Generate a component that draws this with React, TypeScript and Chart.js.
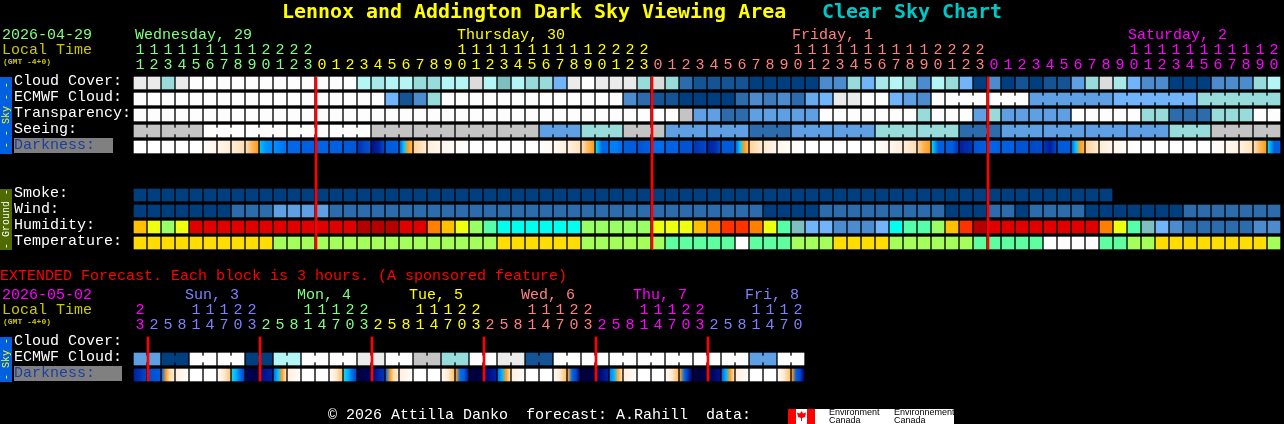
import React, { useEffect, useRef } from "react";
import { Chart, registerables } from "chart.js";

Chart.register(...registerables);

// ---------- data ----------
const mainHours = [11,12,13,14,15,16,17,18,19,20,21,22,23,
  0,1,2,3,4,5,6,7,8,9,10,11,12,13,14,15,16,17,18,19,20,21,22,23,
  0,1,2,3,4,5,6,7,8,9,10,11,12,13,14,15,16,17,18,19,20,21,22,23,
  0,1,2,3,4,5,6,7,8,9,10,11,12,13,14,15,16,17,18,19,20];
const extHours = [23,2,5,8,11,14,17,20,23,2,5,8,11,14,17,20,23,2,5,8,11,14,17,20,23,2,5,8,11,14,17,20,23,2,5,8,11,14,17,20,23,2,5,8,11,14,17,20];
const extDayOfCol = [5,0,0,0,0,0,0,0,0,1,1,1,1,1,1,1,1,2,2,2,2,2,2,2,2,3,3,3,3,3,3,3,3,4,4,4,4,4,4,4,4,0,0,0,0,0,0,0];
const extDayColors = ["#8080ff","#80ff80","#ffff00","#ff8080","#ff00ff","#ff00ff"];
const mainDayLabels = ["Wednesday, 29","Thursday, 30","Friday, 1","Saturday, 2"];
const extDayLabels = ["Sun, 3","Mon, 4","Tue, 5","Wed, 6","Thu, 7","Fri, 8"];
const rowLabels = ["Cloud Cover:","ECMWF Cloud:","Transparency:","Seeing:","Darkness:"];
const groundLabels = ["Smoke:","Wind:","Humidity:","Temperature:"];

const cloudCover = [90,90,60,90,100,100,100,100,100,100,100,100,100,100,100,100,70,65,70,70,60,60,70,70,85,70,50,70,60,60,40,90,100,90,90,90,60,85,60,20,10,10,10,10,0,0,0,0,0,25,25,60,40,65,70,60,25,70,60,40,0,25,0,10,0,10,10,30,60,85,65,40,25,25,0,0,0,25,25,25,60,70];
const ecmwfCloud = [100,100,100,100,100,100,100,100,100,100,100,100,100,100,100,100,100,100,40,10,25,60,100,100,100,100,100,100,100,100,100,100,100,100,100,25,20,10,10,0,0,0,0,20,25,22,25,20,35,40,90,90,100,100,40,30,25,100,100,100,100,100,100,100,30,30,30,30,30,30,40,40,40,40,40,40,60,60,60,60,60,60];
const transparency = [100,100,100,100,100,100,100,100,100,100,100,100,100,100,100,100,100,100,100,100,100,100,100,100,100,100,100,100,100,100,100,100,100,100,100,100,100,100,100,80,30,30,20,20,30,30,30,30,30,100,100,100,100,100,100,100,60,100,100,100,30,60,30,30,30,30,30,100,100,100,100,100,60,60,20,20,20,60,60,60,100,100];
const seeing = [80,80,80,80,80,100,100,100,100,100,100,100,100,100,100,100,100,80,80,80,80,80,80,80,80,80,80,80,80,30,30,30,60,60,60,80,80,80,30,30,30,30,30,30,20,20,20,30,30,30,30,30,30,60,60,60,60,60,60,20,20,20,30,30,30,30,30,30,30,30,30,30,30,30,60,60,60,80,80,80,80,80];
const seeingGroups = [2,3,3,3,3,3,3,3,3,3,3,3,3,3,3,3,3,3,3,3,3,3,3,3,3,3,3,2];
const ecmwfGroups = [58,3,3,6,6,6];
const darkness = [[0],[0],[0],[0],[0],[.3,.8],[.8,1.4],[1.4,2],[2,2.6,3],[4.3,5,5.2],[5,5.5,6],[6.5],[7],[6.8],[7],[7.3],[8.5,7.5],[9.5,9,8],[7.2,7],[6.5,4.2,3,2.6],[2.2,1.4],[1.3,.8],[.8,.3],[.3,.1],
  [0],[0],[0],[0],[0],[.1,.5],[.5,1.2],[1.2,1.9],[2,2.6,3],[4,6.5,6.5],[5.5,5.5,6.2],[7,7.2],[7.5,7],[6.3],[6.8],[7.5],[8.5,8],[9,8.7,8],[7.2],[6.5,4.2,3,2.6],[2.2,1.4],[1.5,.9],[.8,.3],[.3,.1],
  [0],[0],[0],[0],[0],[.2,.6],[.7,1.3],[1.3,2],[2.2,2.7,3],[4,7,7],[7.2,7,8.5],[9,8.5],[7.5,7],[6.5,7],[7],[7.5],[8,7.8],[8.5,9,8],[7.2],[6,4.2,3,2.7],[2.2,1.4],[1.4,.9],[.8,.3],[.3,.1],
  [0],[0],[0],[0],[0],[.1,.5],[.6,1.1],[1.1,1.9],[2,2.6,3],[4,7,7]];
const smoke = [0,0,0,0,0,0,0,0,0,0,0,0,0,0,0,0,0,0,0,0,0,0,0,0,0,0,0,0,0,0,0,0,0,0,0,0,0,0,0,0,0,0,0,0,0,0,0,0,0,0,0,0,0,0,0,0,0,0,0,0,0,0,0,0,0,0,0,0,0,0];
const wind = [0,0,0,0,0,0,0,20,20,20,30,30,30,30,20,20,20,20,20,20,20,20,20,20,20,20,20,20,20,20,20,20,20,20,20,20,20,20,20,20,20,20,20,20,20,0,0,0,0,20,20,20,20,20,20,20,20,20,0,0,0,20,20,0,20,20,20,20,0,0,0,0,0,0,0,20,20,20,20,20,20,20];
const humidity = [65,60,55,60,85,85,85,85,85,85,85,85,85,85,85,85,80,80,80,85,85,70,65,60,55,50,45,45,45,45,45,45,55,55,55,55,55,60,60,60,65,70,75,75,70,60,50,40,35,35,30,30,30,35,45,50,50,55,65,75,80,85,85,85,85,85,85,85,85,70,60,50,40,35,30,25,25,25,25,25,30,30];
const temperature = [15,15,15,15,15,15,15,15,15,15,10,10,10,10,10,10,10,10,10,10,10,10,10,10,10,10,15,15,15,15,15,15,10,10,10,10,10,10,5,5,5,5,5,0,5,5,5,10,10,10,15,15,15,15,10,10,10,10,10,10,5,5,5,5,5,0,0,0,0,5,5,10,10,15,15,15,15,15,15,15,15,10];
const extEcmwf = [30,30,0,0,100,100,100,100,0,0,70,70,100,100,100,100,90,90,100,100,80,80,60,60,100,100,90,90,10,10,100,100,100,100,100,100,100,100,100,100,100,100,100,100,30,30,100,100];
const extGroups = [2,2,2,2,2,2,2,2,2,2,2,2,2,2,2,2,2,2,2,2,2,2,2,2];
const extDarkness = [[9,8],[7.7,7.3],[6,3,2,1.5],[1.2,.3],[0],[0],[.4,1.5,2.4],[3.9,4.5,6,8],[10.5,11],[9.5,9],[6,4.3,3,1.7],[1.2,.3],[0],[0],[.4,1.5,2.5],[3.9,4.5,6,8],[11,10.5],[10,9,8.5],[6,3,2,1.5],[1.2,.3],[0],[0],[.4,1.5,2.5],[3,6,7,9],[11,11],[10,9],[6,4.5,3,2],[1.2,.3],[0],[0],[.4,1.5,2.5],[2.8,6.5,8,10],[11],[10.5,9],[5.5,4.5,2.8,2],[1.2,.3],[0],[0],[.4,1.5,2.5],[3,6,8.5,10.5],[11],[11,9.5],[6.5,4.5,3,2],[1.2,.3],[0],[0],[.4,1.5,2.5],[3,7,8,10]];
const midnightCols = [13,37,61];
const extMidnightCols = [1,9,17,25,33,41];

// ---------- colour scales ----------
const cloudPalette: Record<number,string> = {100:"#fdfdfd",90:"#ebebeb",85:"#dcdcdc",80:"#c4c4c4",70:"#b4f6f6",65:"#a8e8e8",60:"#98dbdb",50:"#7fbfbf",40:"#72b4fa",35:"#68aaee",30:"#5f9fe3",25:"#4c8cce",22:"#3c7cbc",20:"#2c6cac",10:"#145494",0:"#003f7f"};
const humidityPalette: Record<number,string> = {25:"#2c6cac",30:"#4c8cce",35:"#72b4fa",40:"#7fbfbf",45:"#00ffee",50:"#55ffaa",55:"#99ff66",60:"#eeff10",65:"#ffc000",70:"#ff8000",75:"#ff3300",80:"#b50000",85:"#e00000"};
const temperaturePalette: Record<number,string> = {0:"#fdfdfd",5:"#5fff9f",10:"#a5ff5a",15:"#ffdd00"};
const darknessPalette = ["#ffffff","#fff4e6","#ffe0b8","#ff9d1e","#00d8ff","#0090ff","#0070f0","#0060e0","#0048c8","#0020a0","#000070","#000040"];

function hexRgb(h: string) { return [1,3,5].map((i) => parseInt(h.slice(i,i+2),16)); }
function darkColor(level: number) {
  const a = Math.floor(level), b = Math.min(a+1, darknessPalette.length-1), t = level-a;
  const A = hexRgb(darknessPalette[a]), B = hexRgb(darknessPalette[b]);
  return `rgb(${A.map((v,i)=>Math.round(v+(B[i]-v)*t)).join(",")})`;
}

// ---------- layout constants (scale <-> pixel mapping) ----------
const PITCH = 14, BLOCK = 12, ROW = 16, ORIGIN_X = 140, ORIGIN_Y = 77, W = 1284, H = 424;
const xMin = -ORIGIN_X/PITCH, xMax = (W-ORIGIN_X)/PITCH;
const yMin = -ORIGIN_Y/ROW, yMax = (H-ORIGIN_Y)/ROW;
const yAt = (px: number) => (px-ORIGIN_Y)/ROW;
const band = BLOCK/ROW;
const MONO = '"Liberation Mono", monospace';

const mainColColor = (c: number) => c<13?"#80ff80":c<37?"#ffff00":c<61?"#ff8080":"#ff00ff";
const extColColor = (c: number) => extDayColors[extDayOfCol[c]];

function blocks(values: number[], row: number, palette: Record<number,string>, label: string) {
  return { label, order: 2, barThickness: BLOCK, borderWidth: 0,
    data: values.map((_,i)=>({x:i,y:[row,row+band]})),
    backgroundColor: values.map((v)=>palette[v]) };
}
function necks(values: number[], groups: number[], row: number, palette: Record<number,string>, from: number[]|null, label: string) {
  const data: any[] = [], colors: string[] = [];
  let start = 0;
  groups.forEach((size, g) => {
    if (!from || from[g]) for (let i=start;i<start+size-1;i++) {
      data.push({x:i+0.5,y:[row+3/ROW,row+9/ROW]});
      colors.push(palette[values[i]]);
    }
    start += size;
  });
  return { label, order: 2, barThickness: 2, borderWidth: 0, data, backgroundColor: colors };
}
function darkBlocks(values: number[][], row: number, label: string) {
  return { label, order: 2, barThickness: BLOCK, borderWidth: 0,
    data: values.map((_,i)=>({x:i,y:[row,row+band]})),
    backgroundColor: (c: any) => {
      const levels = values[c.dataIndex];
      if (!levels) return "#000";
      if (levels.length===1) return darkColor(levels[0]);
      const sp = c.chart.scales.x?.getPixelForValue(c.dataIndex);
      const px = Number.isFinite(sp) ? sp : ORIGIN_X + PITCH*c.dataIndex;
      const g = c.chart.ctx.createLinearGradient(px-BLOCK/2,0,px+BLOCK/2,0);
      levels.forEach((l,i)=>g.addColorStop(i/(levels.length-1),darkColor(l)));
      return g;
    } };
}
function hourAxis(py: number, label: (c:number)=>string, color: (c:number)=>string) {
  return { type:"linear", axis:"x", min:xMin, max:xMax, offset:false, position:{y:yAt(py)},
    grid:{display:false,drawTicks:false,offset:false}, border:{display:false},
    ticks:{ stepSize:1, autoSkip:false, maxRotation:0, padding:0, includeBounds:false,
      font:{family:MONO,size:15,lineHeight:1},
      color:(c:any)=>color(c.tick.value),
      callback:(v:number)=>label(v) } };
}
const tens = (h: number[]) => (c:number)=> (Number.isInteger(c) && h[c]>=10) ? String(Math.floor(h[c]/10)) : "";
const units = (h: number[]) => (c:number)=> (Number.isInteger(c) && h[c]!==undefined) ? String(h[c]%10) : "";

// ---------- chrome: row labels, title, strips, footer ----------
const overlay = {
  id:"overlay",
  beforeDatasetsDraw(chart: any) {
    const c: CanvasRenderingContext2D = chart.ctx;
    const rowY = (r:number)=>chart.scales.y.getPixelForValue(r+band/2)-2;
    const text = (s:string,x:number,y:number,color:string,font=`15px ${MONO}`)=>{
      c.font=font; c.fillStyle=color; c.textAlign="left"; c.textBaseline="middle"; c.fillText(s,x,y);
    };
    const vtext = (s:string,x:number,y:number,color:string)=>{
      c.save(); c.translate(x,y); c.rotate(-Math.PI/2); c.font=`10px ${MONO}`; c.fillStyle=color;
      c.textAlign="center"; c.textBaseline="middle"; c.fillText(s,0,0); c.restore();
    };
    c.save();
    // title
    text("Lennox and Addington Dark Sky Viewing Area",282,13,"#ffff00",`bold 19.95px "DejaVu Sans Mono", monospace`);
    text("Clear Sky Chart",822,13,"#00c8c8",`bold 19.95px "DejaVu Sans Mono", monospace`);
    // header left
    text("2026-04-29",2,35,"#80ff80");
    text("Local Time",2,50,"#c8c800");
    text("(GMT -4+0)",3,62,"#c8c800",`bold 8px ${MONO}`);
    [135,457,792,1128].forEach((x,i)=>text(mainDayLabels[i],x,35,mainColColor([0,13,37,61][i])));
    // strips
    c.fillStyle="#0060e0"; c.fillRect(0,77,12,77);
    vtext("- - Sky - -",6,115,"#ffff00");
    c.fillStyle="#4f6a00"; c.fillRect(0,189,12,61);
    vtext("- Ground -",6,219,"#ffffff");
    c.fillStyle="#0060e0"; c.fillRect(0,337,12,45);
    vtext("- Sky -",6,359,"#ffff00");
    // row labels
    c.fillStyle="#808080"; c.fillRect(14,138,99,15);
    rowLabels.forEach((s,i)=>text(s,14,rowY(i),i===4?"#1c3ea0":"#ffffff"));
    groundLabels.forEach((s,i)=>text(s,14,rowY(7+i),"#ffffff"));
    // extended block
    text("EXTENDED Forecast. Each block is 3 hours. (A sponsored feature)",0,276,"#ff0000");
    text("2026-05-02",2,295,"#ff00ff");
    text("Local Time",2,310,"#c8c800");
    text("(GMT -4+0)",3,322,"#c8c800",`bold 8px ${MONO}`);
    extDayLabels.forEach((s,i)=>text(s,185+112*i,295,extDayColors[[0,1,2,3,4,0][i]]));
    c.fillStyle="#808080"; c.fillRect(14,366,108,15);
    text(rowLabels[0],14,rowY(16.25),"#ffffff");
    text(rowLabels[1],14,rowY(17.25),"#ffffff");
    text(rowLabels[4],14,rowY(18.25),"#1c3ea0");
    // footer
    text("\u00a9 2026 Attilla Danko  forecast: A.Rahill  data:",328,415,"#ffffff");
    c.fillStyle="#ffffff"; c.fillRect(788,409,166,15);
    c.fillStyle="#ff0000"; c.fillRect(788,409,8,15); c.fillRect(807,409,8,15);
    c.beginPath(); c.moveTo(801.5,411); c.lineTo(803,413.5); c.lineTo(806,412.5); c.lineTo(805,417); c.lineTo(802,418); c.lineTo(802,421); c.lineTo(801,421); c.lineTo(801,418); c.lineTo(798,417); c.lineTo(797,412.5); c.lineTo(800,413.5); c.closePath(); c.fill();
    const small = `9px "Liberation Sans", sans-serif`;
    text("Environment",829,413,"#000000",small);
    text("Canada",829,420.5,"#000000",small);
    text("Environnement",894,413,"#000000",small);
    text("Canada",894,420.5,"#000000",small);
    c.restore();
  },
};

export default function App() {
  const ref = useRef<HTMLCanvasElement>(null);
  useEffect(() => {
    document.body.style.margin = "0";
    document.body.style.background = "#000";
    document.body.style.overflow = "hidden";
    const redHalfShift = BLOCK/2/PITCH;
    const chart = new Chart(ref.current!, {
      type: "bar",
      data: { datasets: [
        { label:"Midnight", order:0, barThickness:2, borderWidth:0, backgroundColor:"#ff0000",
          data:[...midnightCols.map((c)=>({x:c-redHalfShift,y:[0,10.75]})), ...extMidnightCols.map((c)=>({x:c-redHalfShift,y:[16.25,19]}))] },
        blocks(cloudCover,0,cloudPalette,"Cloud Cover"),
        blocks(ecmwfCloud,1,cloudPalette,"ECMWF Cloud"),
        necks(ecmwfCloud,ecmwfGroups,1,cloudPalette,[0,1,1,1,1,1],"ECMWF joins"),
        blocks(transparency,2,cloudPalette,"Transparency"),
        blocks(seeing,3,cloudPalette,"Seeing"),
        necks(seeing,seeingGroups,3,cloudPalette,null,"Seeing joins"),
        darkBlocks(darkness,4,"Darkness"),
        blocks(smoke,7,cloudPalette,"Smoke"),
        blocks(wind,8,cloudPalette,"Wind"),
        blocks(humidity,9,humidityPalette,"Humidity"),
        blocks(temperature,10,temperaturePalette,"Temperature"),
        blocks(extEcmwf,17.25,cloudPalette,"Extended ECMWF Cloud"),
        necks(extEcmwf,extGroups,17.25,cloudPalette,null,"Extended joins"),
        darkBlocks(extDarkness,18.25,"Extended Darkness"),
      ] as any },
      plugins:[overlay],
      options: {
        animation:false, responsive:false, maintainAspectRatio:false,
        layout:{padding:0},
        datasets:{bar:{grouped:false}},
        plugins:{legend:{display:false},title:{display:false},tooltip:{enabled:false}},
        scales:{
          x:{type:"linear",display:false,min:xMin,max:xMax,offset:false,grid:{offset:false}},
          y:{type:"linear",display:false,reverse:true,min:yMin,max:yMax},
          mainTens:hourAxis(42.5,tens(mainHours),mainColColor),
          mainUnits:hourAxis(57.5,units(mainHours),mainColColor),
          extTens:hourAxis(302.5,tens(extHours),extColColor),
          extUnits:hourAxis(317.5,units(extHours),extColColor),
        } as any,
      },
    } as any);
    return () => chart.destroy();
  }, []);
  return <canvas ref={ref} width={W} height={H} style={{display:"block",position:"absolute",left:0,top:0,width:W,height:H}} />;
}
